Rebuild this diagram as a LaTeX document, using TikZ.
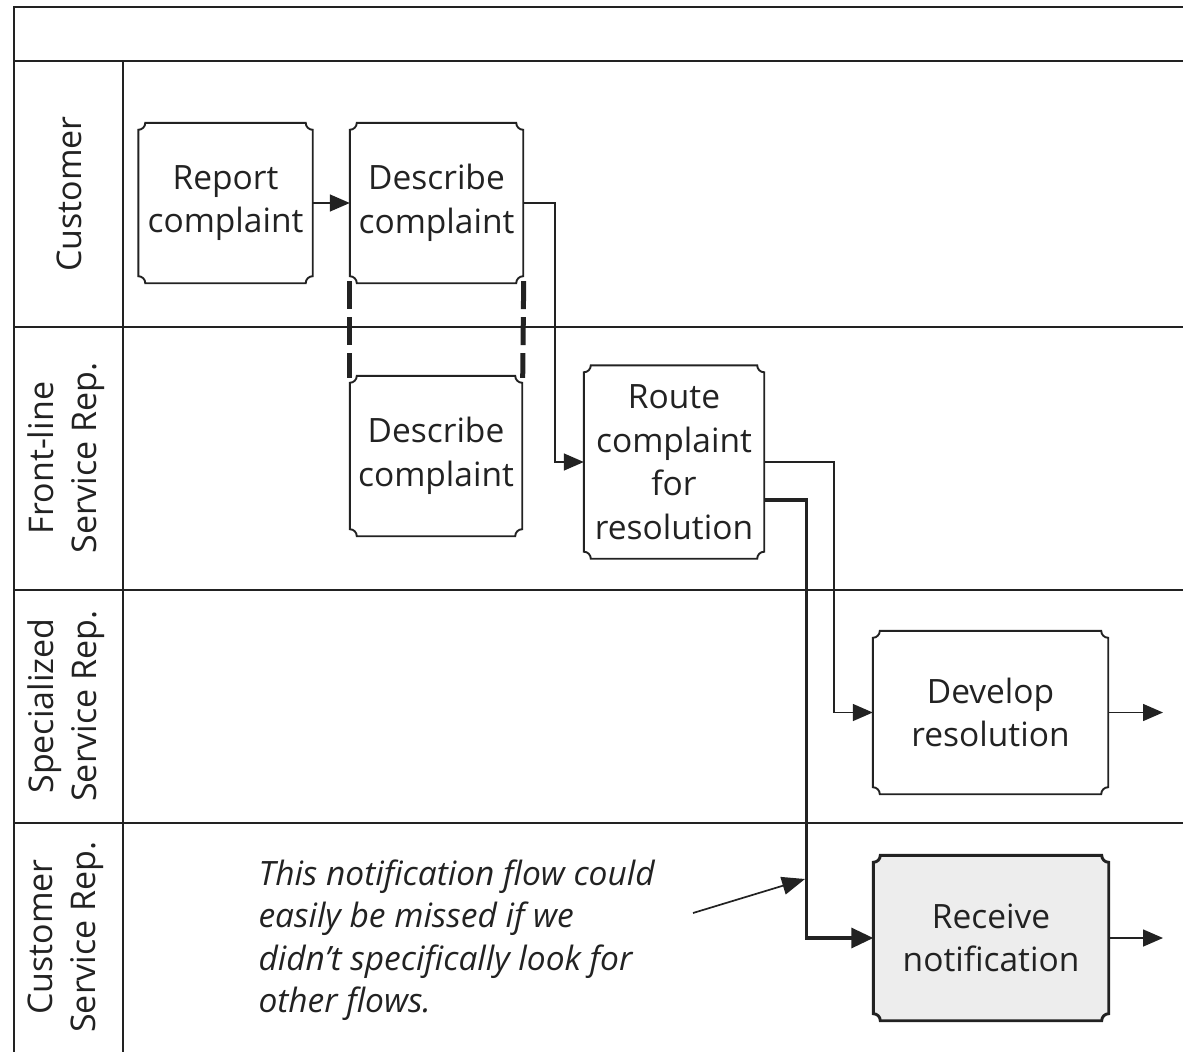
\documentclass[tikz,border=0pt]{standalone}
\usepackage{fontspec}
\setmainfont{Open Sans}
\usetikzlibrary{arrows.meta}

\definecolor{ink}{HTML}{222222}
\definecolor{shade}{HTML}{EDEDED}

% Outline with small concave notches at the four corners of a named node
\newcommand\notchedoutline[2]{%
  \draw[#1] ([xshift=7pt]#2.north west) -- ([xshift=-7pt]#2.north east)
    arc[start angle=180,end angle=270,radius=7pt]
    -- ([yshift=7pt]#2.south east)
    arc[start angle=90,end angle=180,radius=7pt]
    -- ([xshift=7pt]#2.south west)
    arc[start angle=0,end angle=90,radius=7pt]
    -- ([yshift=-7pt]#2.north west)
    arc[start angle=270,end angle=360,radius=7pt] -- cycle;}

\tikzset{
  task/.style={inner sep=0pt, align=center, text=ink,
    font=\fontsize{33.5}{43.5}\selectfont},
  outline/.style={draw=ink, line width=1.9pt},
  heavyoutline/.style={draw=ink, fill=shade, line width=2.9pt},
  lane/.style={draw=ink, line width=1.9pt},
  lanelabel/.style={rotate=90, align=center, text=ink,
    font=\fontsize{34}{43}\selectfont},
  flow/.style={draw=ink, line width=1.5pt,
    -{Triangle[length=20pt,width=17pt]}},
  strongflow/.style={draw=ink, line width=3.4pt,
    -{Triangle[length=22pt,width=20pt]}},
  notearrow/.style={draw=ink, line width=1.7pt,
    -{Triangle[length=23pt,width=18pt]}},
  linkdash/.style={draw=ink, line width=5pt, dash pattern=on 28pt off 8pt},
  note/.style={align=left, text=ink,
    font=\fontsize{33.5}{42.5}\selectfont\itshape}
}

\begin{document}
\begin{tikzpicture}[x=1pt, y=-1pt]
  \useasboundingbox (0,0) rectangle (1183,1052);

  % pool frame and swimlanes
  \draw[lane] (1183,7) -- (14,7) -- (14,1052);
  \draw[lane] (14,61) -- (1183,61);
  \draw[lane] (123,61) -- (123,1052);
  \draw[lane] (14,327) -- (1183,327);
  \draw[lane] (14,590) -- (1183,590);
  \draw[lane] (14,823) -- (1183,823);

  % lane names
  \node[lanelabel] (lcust) at (69,194) {Customer};
  \node[lanelabel] (lfront) at (66,458) {Front-line\\Service Rep.};
  \node[lanelabel] (lspec) at (66,706) {Specialized\\Service Rep.};
  \node[lanelabel] (lcsr) at (66,937) {Customer\\Service Rep.};

  % activities
  \node[task, minimum width=174pt, minimum height=160pt] (report) at (225.5,203) {Report\\complaint};
  \node[task, minimum width=173pt, minimum height=160pt] (descA) at (436.5,203) {Describe\\complaint};
  \node[task, minimum width=172pt, minimum height=160pt] (descB) at (436,456) {Describe\\complaint};
  \node[task, minimum width=180pt, minimum height=193pt] (route) at (674,462) {Route\\complaint\\for\\resolution};
  \node[task, minimum width=235pt, minimum height=163pt] (develop) at (990.5,712.5) {Develop\\resolution};

  \notchedoutline{outline}{report}
  \notchedoutline{outline}{descA}
  \notchedoutline{outline}{descB}
  \notchedoutline{outline}{route}
  \notchedoutline{outline}{develop}

  \node[task, minimum width=235pt, minimum height=165pt] (receive) at (991,938) {\phantom{Receive}\\\phantom{notification}};
  \notchedoutline{heavyoutline}{receive}
  \node[task] (receivetext) at (receive.center) {Receive\\notification};

  % same activity shared by two lanes
  \draw[linkdash] ([xshift=-0.5pt,yshift=2pt]descA.south west) -- ([xshift=-0.5pt,yshift=-2pt]descB.north west);
  \draw[linkdash] ([xshift=0.5pt,yshift=2pt]descA.south east) -- ([xshift=0.5pt,yshift=-2pt]descB.north east);

  % sequence flows
  \coordinate (devout) at (1163,712.5);
  \coordinate (recout) at (1163,938);
  \draw[flow] (report) -- (descA);
  \draw[flow] (descA.east) -- ++(32,0) |- (route.west);
  \draw[flow] (route.east) -- ++(70,0) |- (develop.west);
  \draw[strongflow] ([yshift=-38pt]route.east) -- ++(42,0) |- (receive.west);
  \draw[flow] (develop.east) -- (devout);
  \draw[flow] (receive.east) -- (recout);

  % annotation
  \node[note, anchor=north west] (remark) at (255,856) {This notification flow could\\easily be missed if we\\didn’t specifically look for\\other flows.};
  \coordinate (notestart) at (693,913);
  \coordinate (notetip) at (805,879);
  \draw[notearrow] (notestart) -- (notetip);
\end{tikzpicture}
\end{document}
